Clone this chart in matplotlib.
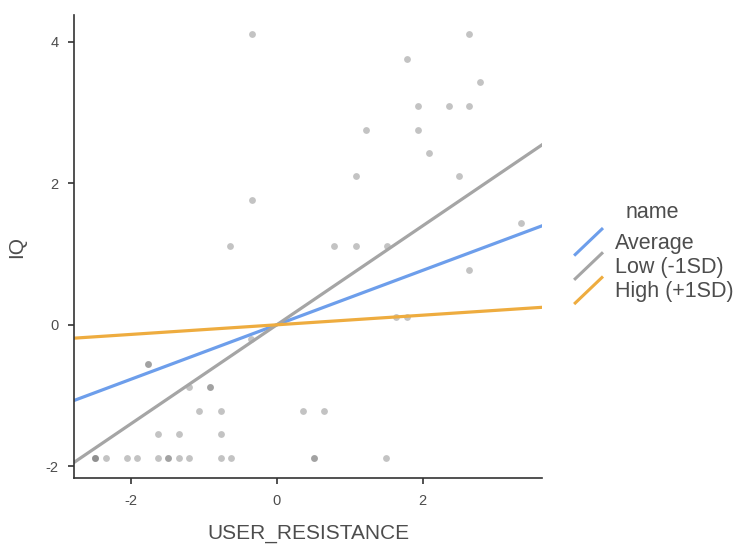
import numpy as np
import matplotlib.pyplot as plt
from matplotlib.lines import Line2D
from matplotlib.legend_handler import HandlerBase

plt.rcParams['font.family'] = ['Liberation Sans', 'DejaVu Sans']
plt.rcParams['axes.unicode_minus'] = False

# scatter points
pts_x = [-0.34, -0.34, -0.64,
         2.64, 1.79, 2.78, 1.93, 2.36, 2.64, 1.22, 1.93, 2.08, 1.08, 2.50, 3.35,
         0.79, 1.08, 1.51, 2.64, 1.64, 1.79, 0.36, 0.65, 0.51, 0.51, 1.50,
         -0.35, -1.77, -1.77, -1.20, -0.91, -0.91, -1.06, -0.77,
         -1.63, -1.34, -0.77,
         -2.49, -2.49, -2.49, -2.34, -2.06, -1.91, -1.63, -1.49, -1.49, -1.34, -1.20, -0.77, -0.63]
pts_y = [4.11, 1.77, 1.11,
         4.11, 3.76, 3.43, 3.09, 3.09, 3.09, 2.76, 2.76, 2.43, 2.10, 2.10, 1.44,
         1.11, 1.11, 1.11, 0.77, 0.11, 0.11, -1.22, -1.22, -1.88, -1.88, -1.88,
         -0.20, -0.56, -0.56, -0.88, -0.88, -0.88, -1.22, -1.22,
         -1.55, -1.55, -1.55,
         -1.88, -1.88, -1.88, -1.88, -1.88, -1.88, -1.88, -1.88, -1.88, -1.88, -1.88, -1.88, -1.88]

# simple slopes (lines cross at origin)
names = ['Average', 'Low (-1SD)', 'High (+1SD)']
slopes = [0.385, 0.70, 0.068]
colors = ['#6d9eeb', '#a5a5a5', '#eeac3f']

xmin, xmax = -2.78, 3.64
ymin, ymax = -2.17, 4.38


class DiagHandler(HandlerBase):
    def create_artists(self, legend, orig, xd, yd, width, height, fontsize, trans):
        ln = Line2D([xd + 3, xd + width - 1], [yd - 5, yd + height + 4],
                    color=orig.get_color(), lw=2.2, solid_capstyle='butt')
        ln.set_transform(trans)
        return [ln]


fig = plt.figure(figsize=(7.42, 5.45), dpi=100)
ax = fig.add_axes([0.0997, 0.1224, 0.6313, 0.8501])

ax.scatter(pts_x, pts_y, s=24, color='#7a7a7a', alpha=0.45, linewidths=0, zorder=1)

xs = np.array([xmin, xmax])
handles = []
for n, b, c in zip(names, slopes, colors):
    h, = ax.plot(xs, b * xs, color=c, lw=2.3, label=n, zorder=2)
    handles.append(h)

ax.set_xlim(xmin, xmax)
ax.set_ylim(ymin, ymax)
ax.set_xticks([-2, 0, 2])
ax.set_yticks([-2, 0, 2, 4])
for s in ['top', 'right']:
    ax.spines[s].set_visible(False)
for s in ['left', 'bottom']:
    ax.spines[s].set_color('#333333')
    ax.spines[s].set_linewidth(1.2)
ax.tick_params(colors='#333333', labelcolor='#4d4d4d', labelsize=10.5, length=4, width=1.2, pad=7)
ax.set_xlabel('USER_RESISTANCE', fontsize=15, color='#4d4d4d', labelpad=12)
ax.set_ylabel('IQ', fontsize=15, color='#4d4d4d', labelpad=14)

leg = fig.legend(handles=handles, labels=names, title='name', loc='upper left',
                 bbox_to_anchor=(0.742, 0.665), frameon=False, fontsize=15.5,
                 title_fontsize=15.5, handler_map={Line2D: DiagHandler()},
                 handlelength=1.6, handletextpad=0.5, labelspacing=0.15)
leg._legend_box.sep = 7
for t in leg.get_texts():
    t.set_color('#4d4d4d')
leg.get_title().set_color('#4d4d4d')

fig.savefig('out.png', dpi=100)
